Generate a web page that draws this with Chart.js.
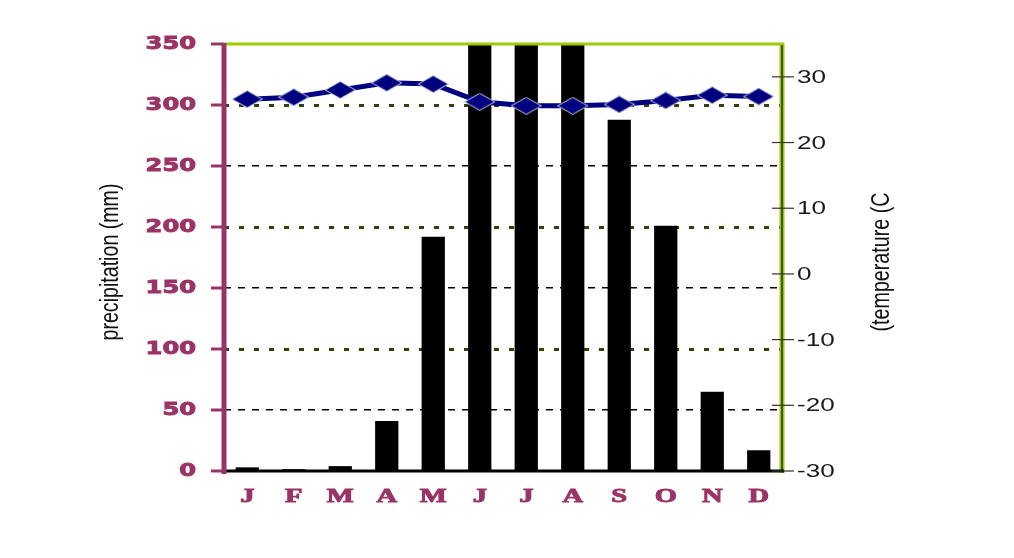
<!DOCTYPE html>
<html>
<head>
<meta charset="utf-8">
<script src="https://cdn.jsdelivr.net/npm/chart.js@4.4.0/dist/chart.umd.min.js"></script>
<style>
    html, body { margin: 0; padding: 0; background: #fff; }
    #wrap { width: 1014px; height: 558px; }
</style>
</head>
<body>
<div id="wrap"><canvas id="climateChart" width="1014" height="558"></canvas></div>
<script>
const months = ["J", "F", "M", "A", "M", "J", "J", "A", "S", "O", "N", "D"];
const precipitation = [3, 1.5, 4, 41, 192, 420, 390, 400, 288, 201, 65, 17];
const temperature = [26.6, 26.9, 28.0, 29.1, 28.9, 26.2, 25.6, 25.6, 25.8, 26.4, 27.2, 27.0];
const precipTicks = [0, 50, 100, 150, 200, 250, 300, 350];
const tempTicks = [-30, -20, -10, 0, 10, 20, 30];

const MAROON = "#9b3466";
const GREEN = "#99cc00";
const NAVY = "#000080";

// diamond marker, wider than tall like the original
const diamond = document.createElement("canvas");
diamond.width = 31;
diamond.height = 18;
(() => {
    const d = diamond.getContext("2d");
    d.beginPath();
    d.moveTo(15.5, 0.5);
    d.lineTo(30.5, 9);
    d.lineTo(15.5, 17.5);
    d.lineTo(0.5, 9);
    d.closePath();
    d.fillStyle = NAVY;
    d.fill();
    d.strokeStyle = "#c8c8dc";
    d.lineWidth = 1;
    d.stroke();
})();

const line = (ctx, x1, y1, x2, y2) => {
    ctx.beginPath();
    ctx.moveTo(x1, y1);
    ctx.lineTo(x2, y2);
    ctx.stroke();
};

// draws text squeezed/stretched horizontally, optional outline to make it heavier
const stretchText = (ctx, text, x, y, sx, align, heavy) => {
    ctx.save();
    ctx.translate(x, y);
    ctx.scale(sx, 1);
    ctx.textAlign = align;
    ctx.textBaseline = "middle";
    ctx.fillText(text, 0, 0);
    if (heavy) {
        ctx.lineWidth = heavy;
        ctx.strokeStyle = ctx.fillStyle;
        ctx.strokeText(text, 0, 0);
    }
    ctx.restore();
};

const verticalTitle = (ctx, text, cx, cy, length, thick) => {
    ctx.save();
    ctx.translate(cx, cy);
    ctx.rotate(-Math.PI / 2);
    const w = ctx.measureText(text).width;
    ctx.scale(length / w, thick);
    ctx.textAlign = "center";
    ctx.textBaseline = "middle";
    ctx.fillText(text, 0, 0);
    ctx.restore();
};

const decor = {
    id: "decor",
    afterDraw(chart) {
        const { ctx, chartArea: a, scales } = chart;
        const y = scales.y, y1 = scales.y1, x = scales.x;
        ctx.save();
        ctx.setLineDash([]);

        // top and right green frame
        ctx.strokeStyle = GREEN;
        ctx.lineWidth = 3;
        line(ctx, a.left, a.top, a.right + 2, a.top);
        ctx.lineWidth = 5;
        line(ctx, a.right, a.top - 1, a.right, a.bottom + 2);
        ctx.strokeStyle = "#2a2a2a";
        ctx.lineWidth = 1.5;
        line(ctx, a.right, a.top + 1, a.right, a.bottom + 1);

        // bottom axis
        ctx.strokeStyle = "#000";
        ctx.lineWidth = 3;
        line(ctx, a.left - 2, a.bottom, a.right + 2, a.bottom);

        // right tick marks
        ctx.strokeStyle = "#333";
        ctx.lineWidth = 1.2;
        tempTicks.forEach((v) => {
            const py = y1.getPixelForValue(v);
            line(ctx, a.right - 10, py, a.right + 12, py);
        });

        // left maroon axis and ticks
        ctx.strokeStyle = MAROON;
        ctx.lineWidth = 5;
        line(ctx, a.left, a.top - 1, a.left, a.bottom + 3);
        ctx.lineWidth = 3;
        precipTicks.forEach((v) => {
            const py = y.getPixelForValue(v);
            line(ctx, a.left - 13, py, a.left, py);
        });

        // tick labels
        ctx.fillStyle = MAROON;
        ctx.font = "bold 17px 'DejaVu Sans'";
        precipTicks.forEach((v) => {
            stretchText(ctx, String(v), 196, y.getPixelForValue(v) + 1, 1.42, "right", 0.9);
        });

        ctx.fillStyle = "#1a1a1a";
        ctx.font = "18px 'Liberation Sans'";
        tempTicks.forEach((v) => {
            stretchText(ctx, String(v), 797, y1.getPixelForValue(v) + 1, 1.45, "left");
        });

        ctx.fillStyle = MAROON;
        ctx.font = "bold 19px 'Liberation Serif'";
        months.forEach((m, i) => {
            stretchText(ctx, m, x.getPixelForValue(i), 497, 1.5, "center", 0.9);
        });

        // axis titles
        ctx.fillStyle = "#111";
        ctx.font = "17px 'Liberation Sans'";
        verticalTitle(ctx, "precipitation (mm)", 111, 262, 157, 1.55);
        verticalTitle(ctx, "(temperature (C", 882, 262, 139, 1.55);

        ctx.restore();
    }
};

new Chart(document.getElementById("climateChart"), {
    data: {
        labels: months,
        datasets: [{
            type: "line",
            label: "Temperature",
            data: temperature,
            yAxisID: "y1",
            borderColor: NAVY,
            borderWidth: 5,
            pointStyle: diamond,
            tension: 0,
            order: 0
        }, {
            type: "bar",
            label: "Precipitation",
            data: precipitation,
            yAxisID: "y",
            backgroundColor: "#000",
            barPercentage: 0.5,
            categoryPercentage: 1,
            order: 1
        }]
    },
    options: {
        responsive: false,
        animation: false,
        layout: { padding: { top: 44, left: 0, right: 0, bottom: 0 } },
        plugins: { legend: { display: false }, tooltip: { enabled: false } },
        scales: {
            x: {
                grid: { display: false },
                border: { display: false },
                ticks: { display: false },
                afterFit: (s) => { s.height = 87; }
            },
            y: {
                position: "left",
                min: 0,
                max: 350,
                ticks: { display: false, stepSize: 50 },
                border: { display: false, dash: [7, 7] },
                grid: {
                    drawTicks: false,
                    lineWidth: 1.5,
                    color: (c) => (c.tick && c.tick.value % 100 === 50) ? "#000" : "rgba(0,0,0,0)"
                },
                afterFit: (s) => { s.width = 224; }
            },
            yg: {
                position: "left",
                min: 0,
                max: 350,
                ticks: { display: false, stepSize: 100 },
                border: { display: false, dash: [5, 10] },
                grid: {
                    drawTicks: false,
                    lineWidth: 3,
                    color: (c) => (c.tick && [100, 200, 300].includes(c.tick.value)) ? "#34420f" : "rgba(0,0,0,0)"
                },
                afterFit: (s) => { s.width = 0; }
            },
            y1: {
                position: "right",
                min: -30,
                max: 35,
                ticks: { display: false, stepSize: 10 },
                grid: { display: false },
                border: { display: false },
                afterFit: (s) => { s.width = 232; }
            }
        }
    },
    plugins: [decor]
});
</script>
</body>
</html>
